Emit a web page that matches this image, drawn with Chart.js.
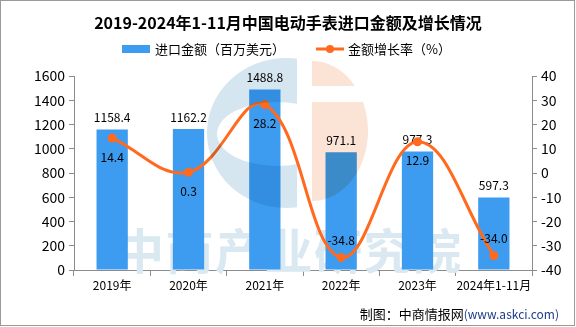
<!DOCTYPE html>
<html>
<head>
<meta charset="utf-8">
<script src="https://cdn.jsdelivr.net/npm/chart.js@4/dist/chart.umd.min.js"></script>
<style>
body{margin:0;background:#fff}
</style>
</head>
<body>
<canvas id="myChart" width="576" height="327"></canvas>
<script>
const years = ["2019年","2020年","2021年","2022年","2023年","2024年1-11月"]
const importValue = [1158.4,1162.2,1488.8,971.1,977.3,597.3]
const growthRate = [14.4,0.3,28.2,-34.8,12.9,-34.0]
const amountRange = [0,1600]
const amountStep = 200
const rateRange = [-40,40]
const rateStep = 10

const titleText = "2019-2024年1-11月中国电动手表进口金额及增长情况"
const barName = "进口金额（百万美元）"
const lineName = "金额增长率（%）"

const FONT = "'Noto Sans CJK SC', 'Noto Sans', sans-serif"
const BLUE = "#3D9CF0"
const ORANGE = "#FF6A1F"
const AXIS = "#8C8C8C"

// watermark behind bars
const watermarkBack = {
id:"watermarkBack",
beforeDatasetsDraw(chart){
const ctx = chart.ctx
ctx.save()
ctx.fillStyle = "#D9E8F1"
ctx.font = "bold 48px " + FONT
ctx.textAlign = "left"
ctx.textBaseline = "middle"
const chars = "中商产业研究院"
for(let i=0;i<chars.length;i++){
ctx.fillText(chars[i],116+i*49.5,251)
}
ctx.restore()
}
}

// per-dataset value labels
const valueLabels = {
id:"valueLabels",
afterDatasetDraw(chart,args){
const ctx = chart.ctx
const meta = chart.getDatasetMeta(args.index)
const data = chart.data.datasets[args.index].data
ctx.save()
ctx.fillStyle = "#000"
ctx.font = "12px " + FONT
ctx.textAlign = "center"
ctx.textBaseline = "middle"
meta.data.forEach((el,i)=>{
const v = data[i]
if(meta.type==="bar"){
ctx.fillText(v.toFixed(1),el.x,el.y-12)
}else{
ctx.fillText(v.toFixed(1),el.x,v>=0 ? el.y+19 : el.y-17)
}
})
ctx.restore()
}
}

// logo watermark, title, legend, source, frame
const decorations = {
id:"decorations",
afterDatasetsDraw(chart){
const ctx = chart.ctx
ctx.save()
ctx.globalCompositeOperation = "multiply"
// blue C ring
ctx.save()
ctx.beginPath()
ctx.rect(150,40,147,200)
ctx.clip()
ctx.beginPath()
ctx.ellipse(286,133,79,75,0,0,Math.PI*2)
ctx.ellipse(277,134,60,32,0,0,Math.PI*2,true)
ctx.fillStyle = "#D5E6F0"
ctx.fill("evenodd")
ctx.restore()
// peach half
ctx.save()
ctx.beginPath()
ctx.rect(312,40,100,46)
ctx.rect(312,102,100,120)
ctx.clip()
ctx.beginPath()
ctx.ellipse(312,131,56,70,0,-Math.PI/2,Math.PI/2)
ctx.closePath()
ctx.fillStyle = "#FBE3D6"
ctx.fill()
ctx.restore()
ctx.restore()
},
afterDraw(chart){
const ctx = chart.ctx
ctx.save()
ctx.fillStyle = "#000"
ctx.textBaseline = "middle"
ctx.textAlign = "center"
ctx.font = "bold 16px " + FONT
ctx.fillText(titleText,288,23)

ctx.textAlign = "left"
ctx.font = "13px " + FONT
ctx.fillStyle = BLUE
ctx.fillRect(122,45,28,8)
ctx.fillStyle = "#000"
ctx.fillText(barName,155,49)

ctx.strokeStyle = ORANGE
ctx.lineWidth = 3
ctx.beginPath()
ctx.moveTo(316,49)
ctx.lineTo(344,49)
ctx.stroke()
ctx.fillStyle = ORANGE
ctx.beginPath()
ctx.arc(330,49,4,0,Math.PI*2)
ctx.fill()
ctx.fillStyle = "#000"
ctx.fillText(lineName,348,49)

ctx.textAlign = "right"
ctx.font = "12px " + FONT
ctx.fillStyle = "#1F3C88"
const site = "(www.askci.com)"
ctx.fillText(site,559,314)
const w = ctx.measureText(site).width
ctx.font = "13px " + FONT
ctx.fillStyle = "#000"
ctx.fillText("制图：中商情报网",559-w,314)

ctx.strokeStyle = "#9A9A9A"
ctx.lineWidth = 1
ctx.strokeRect(0.5,0.5,574,325)
ctx.restore()
}
}

new Chart(
document.getElementById("myChart"),
{
data:{
labels:years,
datasets:[
{
type:"bar",
label:barName,
data:importValue,
backgroundColor:BLUE,
yAxisID:"y",
order:1,
categoryPercentage:1,
barPercentage:0.41
},
{
type:"line",
label:lineName,
data:growthRate,
borderColor:ORANGE,
backgroundColor:ORANGE,
borderWidth:3,
pointRadius:4.5,
pointBorderWidth:0,
pointBackgroundColor:ORANGE,
tension:0.4,
fill:false,
yAxisID:"y1",
order:0
}
]
},
options:{
responsive:false,
animation:false,
layout:{padding:{top:76,bottom:20,left:0,right:0}},
plugins:{
legend:{display:false},
title:{display:false},
tooltip:{enabled:false}
},
scales:{
x:{
grid:{display:true,drawOnChartArea:false,offset:true,tickLength:6,color:AXIS},
border:{color:AXIS},
ticks:{color:"#000",font:{size:12,family:FONT},padding:2,maxRotation:0,autoSkip:false},
afterFit(s){s.height=37}
},
y:{
position:"left",
min:amountRange[0],
max:amountRange[1],
ticks:{stepSize:amountStep,color:"#000",font:{size:14,family:FONT},padding:4,callback:v=>String(v)},
grid:{drawOnChartArea:false,tickLength:5,color:AXIS},
border:{color:AXIS},
afterFit(s){s.width=74}
},
y1:{
position:"right",
min:rateRange[0],
max:rateRange[1],
ticks:{stepSize:rateStep,color:"#000",font:{size:14,family:FONT},padding:4,callback:v=>String(v)},
grid:{drawOnChartArea:false,tickLength:5,color:AXIS},
border:{color:AXIS},
afterFit(s){s.width=44}
}
}
},
plugins:[watermarkBack,valueLabels,decorations]
})
</script>
</body>
</html>
